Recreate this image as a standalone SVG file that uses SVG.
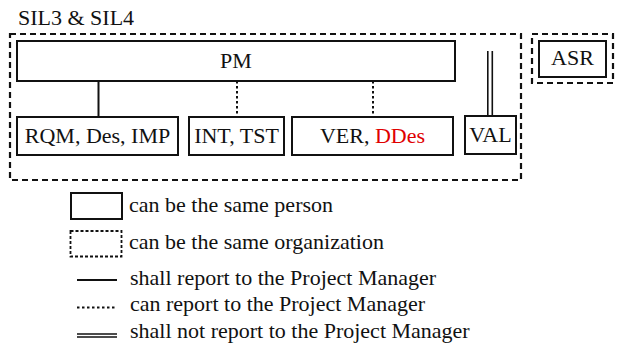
<svg xmlns="http://www.w3.org/2000/svg" width="621" height="343" viewBox="0 0 621 343">
<style>
text{font-family:"Liberation Serif","Times New Roman",serif;font-size:22px;fill:#111}
.box{fill:#fff;stroke:#111;stroke-width:2}
.grp{fill:none;stroke:#111;stroke-width:2.2;stroke-dasharray:6 4}
.solid{stroke:#111;stroke-width:2;fill:none}
.dot{stroke:#111;stroke-width:2;fill:none;stroke-dasharray:2.5 2.5}
.dbl{stroke:#111;stroke-width:1.6;fill:none}
.c{text-anchor:middle}
</style>
<rect width="621" height="343" fill="#fff"/>
<text x="18" y="25">SIL3 &amp; SIL4</text>
<rect id="sil-group" class="grp" x="10" y="34" width="511" height="146"/>
<g id="asr-group"><rect class="grp" x="532" y="34" width="81" height="49"/></g>
<g id="connectors">
<line class="solid" x1="98.5" y1="81" x2="98.5" y2="117"/>
<line class="dot" x1="237" y1="81" x2="237" y2="117"/>
<line class="dot" x1="373" y1="81" x2="373" y2="117"/>
<line class="dbl" x1="487.8" y1="51" x2="487.8" y2="116"/>
<line class="dbl" x1="492.3" y1="51" x2="492.3" y2="116"/>
</g>
<g id="pm"><rect class="box" x="17" y="41" width="438" height="40"/><text class="c" x="236" y="68">PM</text></g>
<g id="rqm"><rect class="box" x="17" y="117" width="161" height="38"/><text class="c" x="97.5" y="143">RQM, Des, IMP</text></g>
<g id="int"><rect class="box" x="189" y="117" width="95" height="38"/><text class="c" x="236.5" y="143">INT, TST</text></g>
<g id="ver"><rect class="box" x="292" y="117" width="161" height="38"/><text class="c" x="372.5" y="143">VER, <tspan fill="#e00000">DDes</tspan></text></g>
<g id="val"><rect class="box" x="465" y="116" width="51" height="38"/><text class="c" x="490.5" y="142">VAL</text></g>
<g id="asr"><rect class="box" x="539" y="41" width="67" height="36"/><text class="c" x="572.5" y="65">ASR</text></g>
<g id="legend">
<rect class="box" x="71" y="193" width="51" height="26"/>
<text x="129" y="212">can be the same person</text>
<rect x="70.5" y="231" width="51" height="25.5" fill="none" stroke="#111" stroke-width="1.8" stroke-dasharray="3 2"/>
<text x="129" y="249">can be the same organization</text>
<line class="solid" x1="77" y1="280" x2="117" y2="280"/>
<text x="130" y="285">shall report to the Project Manager</text>
<line class="dot" x1="77" y1="307.5" x2="117" y2="307.5" stroke-width="1.6"/>
<text x="130" y="311">can report to the Project Manager</text>
<line class="dbl" x1="77" y1="334" x2="117" y2="334"/>
<line class="dbl" x1="77" y1="337" x2="117" y2="337"/>
<text x="130" y="338">shall not report to the Project Manager</text>
</g>
</svg>
